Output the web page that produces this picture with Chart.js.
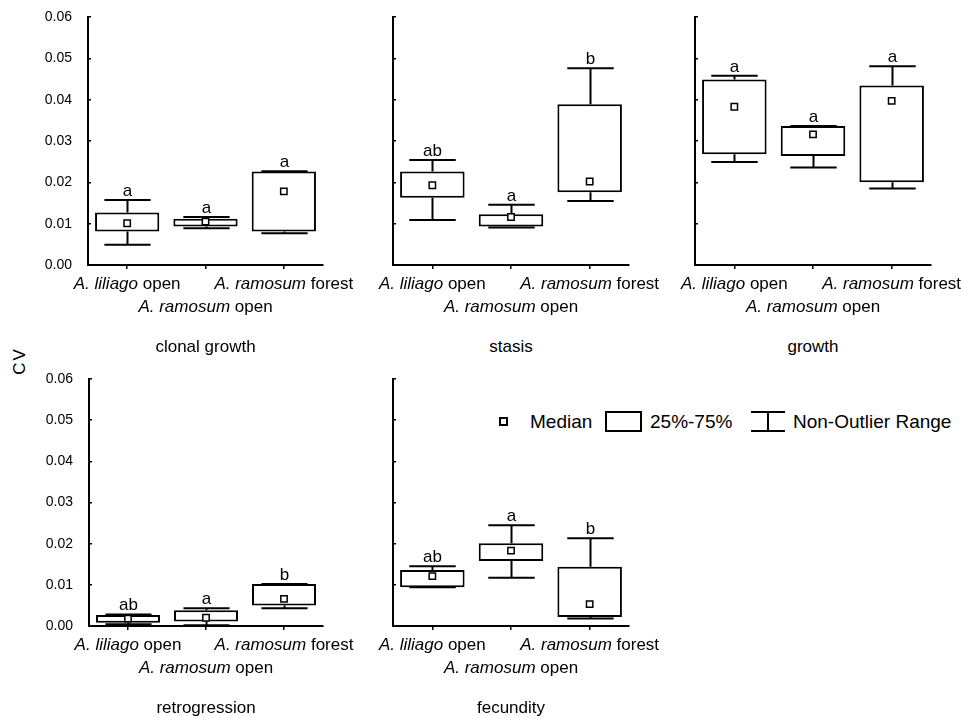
<!DOCTYPE html>
<html>
<head>
<meta charset="utf-8">
<script src="https://cdn.jsdelivr.net/npm/chart.js@4.4.1/dist/chart.umd.min.js"></script>
<style>
  body { margin: 0; background: #fff; }
  #page { position: relative; width: 961px; height: 718px; overflow: hidden;
          font-family: "Liberation Sans", Arial, sans-serif; color: #000; }
  #page canvas { position: absolute; }
  .lbl { position: absolute; font-size: 17px; line-height: 20px; white-space: nowrap;
         transform: translate(-50%, -50%); }
  .cv { position: absolute; left: 20px; top: 361px; font-size: 17px; letter-spacing: 2px;
        transform: translate(-50%, -50%) rotate(-90deg); }
  .lg { position: absolute; box-sizing: border-box; }
  .lg-text { position: absolute; top: 410px; font-size: 19px; line-height: 24px; white-space: nowrap; }
  .lg-median { left: 499px; top: 417px; width: 9px; height: 9px; border: 2px solid #000; }
  .lg-box { left: 605px; top: 411px; width: 37px; height: 21px; border: 2px solid #000; }
  .lg-whisker { left: 751px; top: 411px; width: 34px; height: 21px; border-top: 2px solid #000; border-bottom: 2px solid #000; }
  .lg-whisker::after { content: ""; position: absolute; left: 16px; top: 0; width: 2px; height: 17px; background: #000; }
</style>
</head>
<body>
<div id="page">
  <div class="cv">CV</div>
  <span class="lg lg-median"></span>
  <span class="lg-text" style="left:530px">Median</span>
  <span class="lg lg-box"></span>
  <span class="lg-text" style="left:650px">25%-75%</span>
  <span class="lg lg-whisker"></span>
  <span class="lg-text" style="left:793px">Non-Outlier Range</span>
</div>
<script>
const categories = ['A. liliago open', 'A. ramosum open', 'A. ramosum forest'];
const speciesNames = ['A. liliago', 'A. ramosum', 'A. ramosum'];
const habitats = ['open', 'open', 'forest'];
const panelTitles = ['clonal growth', 'stasis', 'growth', 'retrogression', 'fecundity'];

// one row per panel, one value per category
const q1 = [
  [0.0081, 0.0093, 0.0081],
  [0.0163, 0.0093, 0.0176],
  [0.0268, 0.0264, 0.0200],
  [0.0008, 0.0011, 0.0050],
  [0.0094, 0.0158, 0.0022]
];
const q3 = [
  [0.0127, 0.0112, 0.0226],
  [0.0226, 0.0123, 0.0389],
  [0.0449, 0.0336, 0.0434],
  [0.0027, 0.0038, 0.0102],
  [0.0136, 0.0201, 0.0144]
];
const medians = [
  [0.0101, 0.0105, 0.0178],
  [0.0193, 0.0116, 0.0202],
  [0.0383, 0.0316, 0.0397],
  [0.0018, 0.0020, 0.0066],
  [0.0121, 0.0183, 0.0053]
];
const whiskerLow = [
  [0.0049, 0.0089, 0.0077],
  [0.0109, 0.0091, 0.0155],
  [0.0249, 0.0236, 0.0185],
  [0.0004, 0.0002, 0.0043],
  [0.0094, 0.0117, 0.0018]
];
const whiskerHigh = [
  [0.0157, 0.0116, 0.0227],
  [0.0254, 0.0146, 0.0476],
  [0.0458, 0.0336, 0.0481],
  [0.0028, 0.0043, 0.0102],
  [0.0145, 0.0245, 0.0213]
];
const groupLetters = [
  ['a', 'a', 'a'],
  ['ab', 'a', 'b'],
  ['a', 'a', 'a'],
  ['ab', 'a', 'b'],
  ['ab', 'a', 'b']
];
const yMin = 0, yMax = 0.06, yStep = 0.01;

// plot area of each panel on the page
const frames = [
  { left: 88,  top: 17,  width: 235, height: 248, yLabels: true },
  { left: 393, top: 17,  width: 236, height: 248, yLabels: false },
  { left: 695, top: 17,  width: 236, height: 248, yLabels: false },
  { left: 89,  top: 379, width: 234, height: 247, yLabels: true },
  { left: 393, top: 379, width: 236, height: 247, yLabels: false }
];
const ML = 62, MT = 12, MR = 6, MB = 10;
const FONT = '"Liberation Sans", Arial, sans-serif';

const whiskerPlugin = {
  id: 'whiskers',
  afterDatasetsDraw(chart, args, opts) {
    const { ctx, scales: { x, y } } = chart;
    const bars = chart.getDatasetMeta(0).data;
    ctx.save();
    ctx.strokeStyle = '#000';
    ctx.lineWidth = 2;
    opts.low.forEach((lo, i) => {
      const cx = Math.round(x.getPixelForValue(i)) + 0.5;
      const half = bars[i].width * 0.36;
      const yLo = y.getPixelForValue(lo), yHi = y.getPixelForValue(opts.high[i]);
      const yQ1 = y.getPixelForValue(opts.q1[i]), yQ3 = y.getPixelForValue(opts.q3[i]);
      ctx.beginPath();
      ctx.moveTo(cx, yQ3); ctx.lineTo(cx, yHi);
      ctx.moveTo(cx - half, yHi); ctx.lineTo(cx + half, yHi);
      ctx.moveTo(cx, yQ1); ctx.lineTo(cx, yLo);
      ctx.moveTo(cx - half, yLo); ctx.lineTo(cx + half, yLo);
      ctx.stroke();
      ctx.fillStyle = '#000';
      ctx.font = '17px ' + FONT;
      ctx.textAlign = 'center';
      ctx.textBaseline = 'alphabetic';
      ctx.fillText(opts.letters[i], cx, yHi - 4);
    });
    ctx.restore();
  }
};

const page = document.getElementById('page');

frames.forEach((f, p) => {
  const canvas = document.createElement('canvas');
  const cLeft = f.left - ML, cTop = f.top - MT;
  canvas.width = f.width + ML + MR;
  canvas.height = f.height + MT + MB;
  canvas.style.left = cLeft + 'px';
  canvas.style.top = cTop + 'px';
  page.appendChild(canvas);

  const chart = new Chart(canvas.getContext('2d'), {
    type: 'bar',
    data: {
      labels: categories,
      datasets: [{
        data: q1[p].map((v, i) => [v, q3[p][i]]),
        backgroundColor: '#fff',
        borderColor: '#000',
        borderWidth: 2,
        borderSkipped: false,
        barPercentage: 0.82,
        categoryPercentage: 1.0,
        order: 2
      }, {
        type: 'line',
        data: medians[p],
        showLine: false,
        pointStyle: 'rect',
        pointRadius: 4.5,
        pointBorderWidth: 1.5,
        pointBackgroundColor: '#fff',
        pointBorderColor: '#000',
        order: 1
      }]
    },
    options: {
      responsive: false,
      animation: false,
      events: [],
      layout: { padding: { left: 0, top: MT, right: MR, bottom: 0 } },
      plugins: {
        legend: { display: false },
        tooltip: { enabled: false },
        whiskers: { low: whiskerLow[p], high: whiskerHigh[p], q1: q1[p], q3: q3[p], letters: groupLetters[p] }
      },
      scales: {
        x: {
          afterFit: s => { s.height = MB; s.paddingLeft = 0; s.paddingRight = 0; },
          ticks: { display: false },
          grid: { drawOnChartArea: false, drawTicks: true, tickLength: 4, offset: false, color: '#000', lineWidth: 1.5 },
          border: { display: true, color: '#000', width: 2 }
        },
        y: {
          min: yMin, max: yMax,
          afterFit: s => { s.width = ML; s.paddingTop = 0; s.paddingBottom = 0; },
          ticks: {
            display: f.yLabels, stepSize: yStep, padding: 19, color: '#000',
            font: { family: FONT, size: 14 },
            callback: v => v.toFixed(2)
          },
          grid: { drawOnChartArea: false, drawTicks: true, tickLength: -3, color: '#000', lineWidth: 1.5 },
          border: { display: true, color: '#000', width: 2 }
        }
      }
    },
    plugins: [whiskerPlugin]
  });

  const xs = chart.scales.x;
  categories.forEach((c, i) => {
    const div = document.createElement('div');
    div.className = 'lbl';
    div.innerHTML = `<i>${speciesNames[i]}</i> ${habitats[i]}`;
    div.style.left = (cLeft + xs.getPixelForValue(i)) + 'px';
    div.style.top = (cTop + xs.top + (i === 1 ? 41.5 : 18.5)) + 'px';
    page.appendChild(div);
  });
  const title = document.createElement('div');
  title.className = 'lbl';
  title.textContent = panelTitles[p];
  title.style.left = (cLeft + (xs.left + xs.right) / 2) + 'px';
  title.style.top = (cTop + xs.top + 82) + 'px';
  page.appendChild(title);
});
</script>
</body>
</html>
